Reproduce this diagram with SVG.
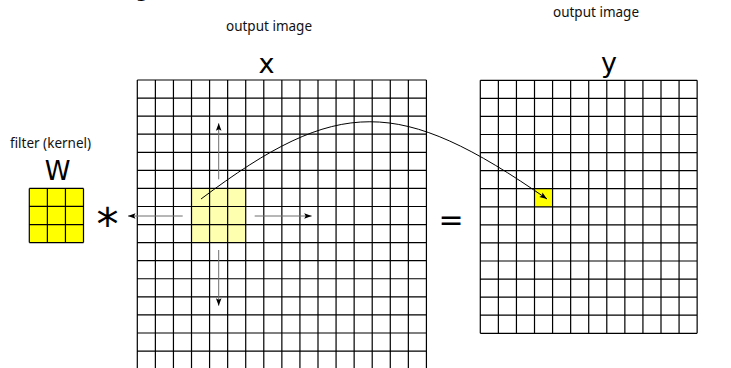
<svg xmlns="http://www.w3.org/2000/svg" width="731" height="368" viewBox="0 0 731 368">
<style>
.bg{fill:#fff}
.grid{fill:none;stroke:#000;stroke-width:1.2}
.lbl{font-family:"Noto Sans","Open Sans",sans-serif;font-size:13.5px;fill:#111;text-anchor:middle}
.big{font-family:"DejaVu Sans",sans-serif;fill:#000;text-anchor:middle}
.mv{fill:none;stroke:#6e6e6e;stroke-width:1;marker-end:url(#ah)}
.cv{fill:none;stroke:#000;stroke-width:1;marker-end:url(#ah)}
</style>
<defs>
<marker id="ah" markerUnits="userSpaceOnUse" markerWidth="10" markerHeight="8" viewBox="-8 -4 10 8" refX="0" refY="0" orient="auto">
<path d="M0,0 L-7.5,-2.8 L-6,0 L-7.5,2.8 z" fill="#000"/>
</marker>
</defs>
<rect class="bg" x="0" y="0" width="731" height="368"/>

<text class="big" x="171" y="-3" style="font-size:22px;text-anchor:end">image)</text>

<g id="labels">
<text class="lbl" x="269" y="31">output image</text>
<text class="lbl" x="596" y="17">output image</text>
</g>

<g id="kernel">
<text class="lbl" x="50.5" y="148">filter (kernel)</text>
<text class="big" x="57.5" y="180" style="font-size:26px">W</text>
<rect x="29.3" y="188.4" width="54.2" height="54.2" fill="#ffff00"/>
<path class="grid" d="M29.3,188.4H83.5M29.3,206.47H83.5M29.3,224.54H83.5M29.3,242.6H83.5M29.3,188.4V242.6M47.37,188.4V242.6M65.44,188.4V242.6M83.5,188.4V242.6"/>
</g>

<g id="op-star">
<text class="big" x="107.5" y="240" style="font-size:44px">*</text>
</g>

<g id="input-x">
<text class="big" x="266.5" y="73" style="font-size:27px">x</text>
<rect x="191.51" y="188.42" width="54.21" height="54.21" fill="#ffffb0"/>
<path class="grid" d="M137.3,80H426.42M137.3,98.07H426.42M137.3,116.14H426.42M137.3,134.21H426.42M137.3,152.28H426.42M137.3,170.35H426.42M137.3,188.42H426.42M137.3,206.49H426.42M137.3,224.56H426.42M137.3,242.63H426.42M137.3,260.7H426.42M137.3,278.77H426.42M137.3,296.84H426.42M137.3,314.91H426.42M137.3,332.98H426.42M137.3,351.05H426.42M137.3,369.12H426.42
M137.3,80V369.12M155.37,80V369.12M173.44,80V369.12M191.51,80V369.12M209.58,80V369.12M227.65,80V369.12M245.72,80V369.12M263.79,80V369.12M281.86,80V369.12M299.93,80V369.12M318,80V369.12M336.07,80V369.12M354.14,80V369.12M372.21,80V369.12M390.28,80V369.12M408.35,80V369.12M426.42,80V369.12"/>
</g>

<g id="op-eq">
<text class="big" x="451" y="230" style="font-size:30px">=</text>
</g>

<g id="output-y">
<text class="big" x="609" y="72" style="font-size:27px">y</text>
<rect x="534.51" y="188.72" width="18.07" height="18.07" fill="#ffff00"/>
<path class="grid" d="M480.3,80.3H697.14M480.3,98.37H697.14M480.3,116.44H697.14M480.3,134.51H697.14M480.3,152.58H697.14M480.3,170.65H697.14M480.3,188.72H697.14M480.3,206.79H697.14M480.3,224.86H697.14M480.3,242.93H697.14M480.3,261H697.14M480.3,279.07H697.14M480.3,297.14H697.14M480.3,315.21H697.14M480.3,333.28H697.14
M480.3,80.3V333.28M498.37,80.3V333.28M516.44,80.3V333.28M534.51,80.3V333.28M552.58,80.3V333.28M570.65,80.3V333.28M588.72,80.3V333.28M606.79,80.3V333.28M624.86,80.3V333.28M642.93,80.3V333.28M661,80.3V333.28M679.07,80.3V333.28M697.14,80.3V333.28"/>
</g>

<g id="connectors">
<path class="mv" d="M182.7,216H128"/>
<path class="mv" d="M254.7,216H311.7"/>
<path class="mv" d="M218.7,179.3V123.3"/>
<path class="mv" d="M218.7,250V305.7"/>
<path class="cv" d="M201,199 C338,96 399,96 547,199"/>
</g>
</svg>
